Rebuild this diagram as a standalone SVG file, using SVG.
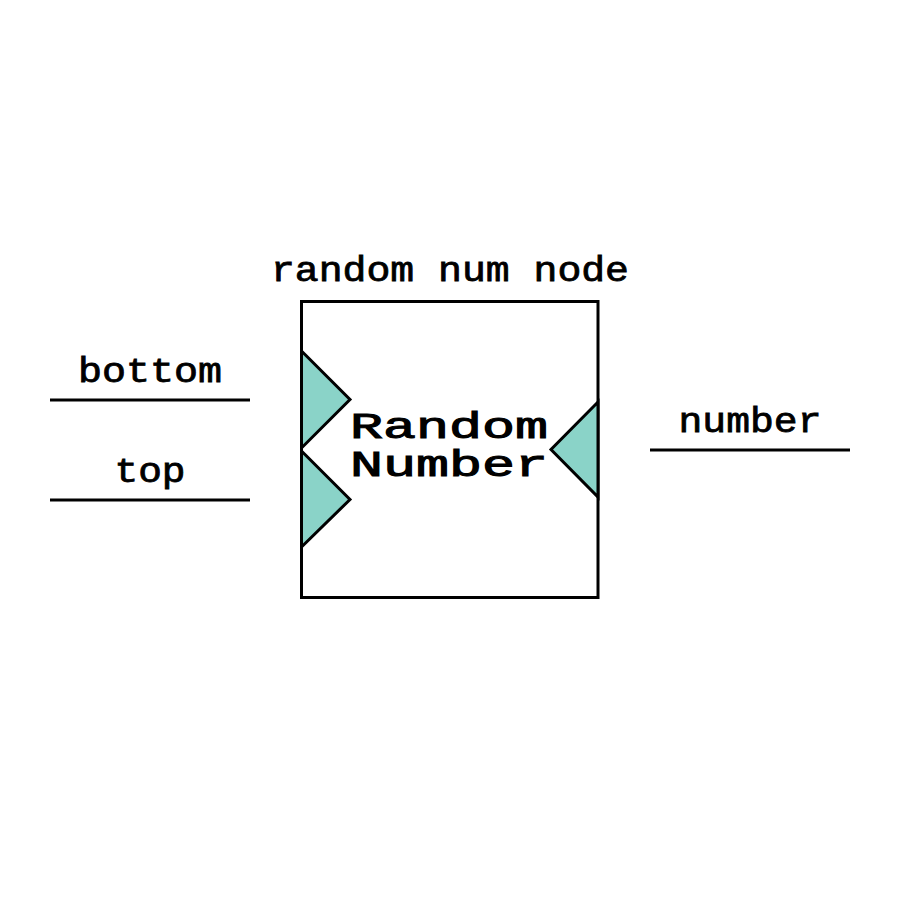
<svg xmlns="http://www.w3.org/2000/svg" width="900" height="900" viewBox="0 0 900 900">
<style>
.lbl{font-family:"Nimbus Mono PS","Courier New","Liberation Mono",monospace;font-size:35px;fill:#000;stroke:#000;stroke-width:0.8;text-anchor:middle}
.big{font-family:"Nimbus Mono PS","Courier New","Liberation Mono",monospace;font-size:36px;fill:#000;stroke:#000;stroke-width:1}
.port{fill:#8ad3c8;stroke:#000;stroke-width:3;stroke-linejoin:miter}
.wire{stroke:#000;stroke-width:3;fill:none}
</style>
<rect width="900" height="900" fill="#fff"/>
<g id="node-random">
<text class="lbl" x="450" y="281" textLength="358" lengthAdjust="spacingAndGlyphs">random num node</text>
<rect x="301.5" y="301.5" width="296.5" height="296" fill="#fff" stroke="#000" stroke-width="3"/>
<text class="big" x="350" y="438" textLength="198" lengthAdjust="spacingAndGlyphs">Random</text>
<text class="big" x="350" y="476" textLength="198" lengthAdjust="spacingAndGlyphs">Number</text>
</g>
<g id="port-bottom"><polygon class="port" points="301.5,351 350,399.5 301.5,448"/></g>
<g id="port-top"><polygon class="port" points="301.5,451 350,499.5 301.5,547"/></g>
<g id="port-number"><polygon class="port" points="598,402 551,449.5 598,497"/></g>
<g id="connectors">
<line class="wire" x1="50" y1="400" x2="250" y2="400"/>
<line class="wire" x1="50" y1="500" x2="250" y2="500"/>
<line class="wire" x1="650" y1="450" x2="850" y2="450"/>
</g>
<g id="labels">
<text class="lbl" x="150" y="382" textLength="144" lengthAdjust="spacingAndGlyphs">bottom</text>
<text class="lbl" x="150" y="482" textLength="71" lengthAdjust="spacingAndGlyphs">top</text>
<text class="lbl" x="750" y="432" textLength="143" lengthAdjust="spacingAndGlyphs">number</text>
</g>
</svg>
